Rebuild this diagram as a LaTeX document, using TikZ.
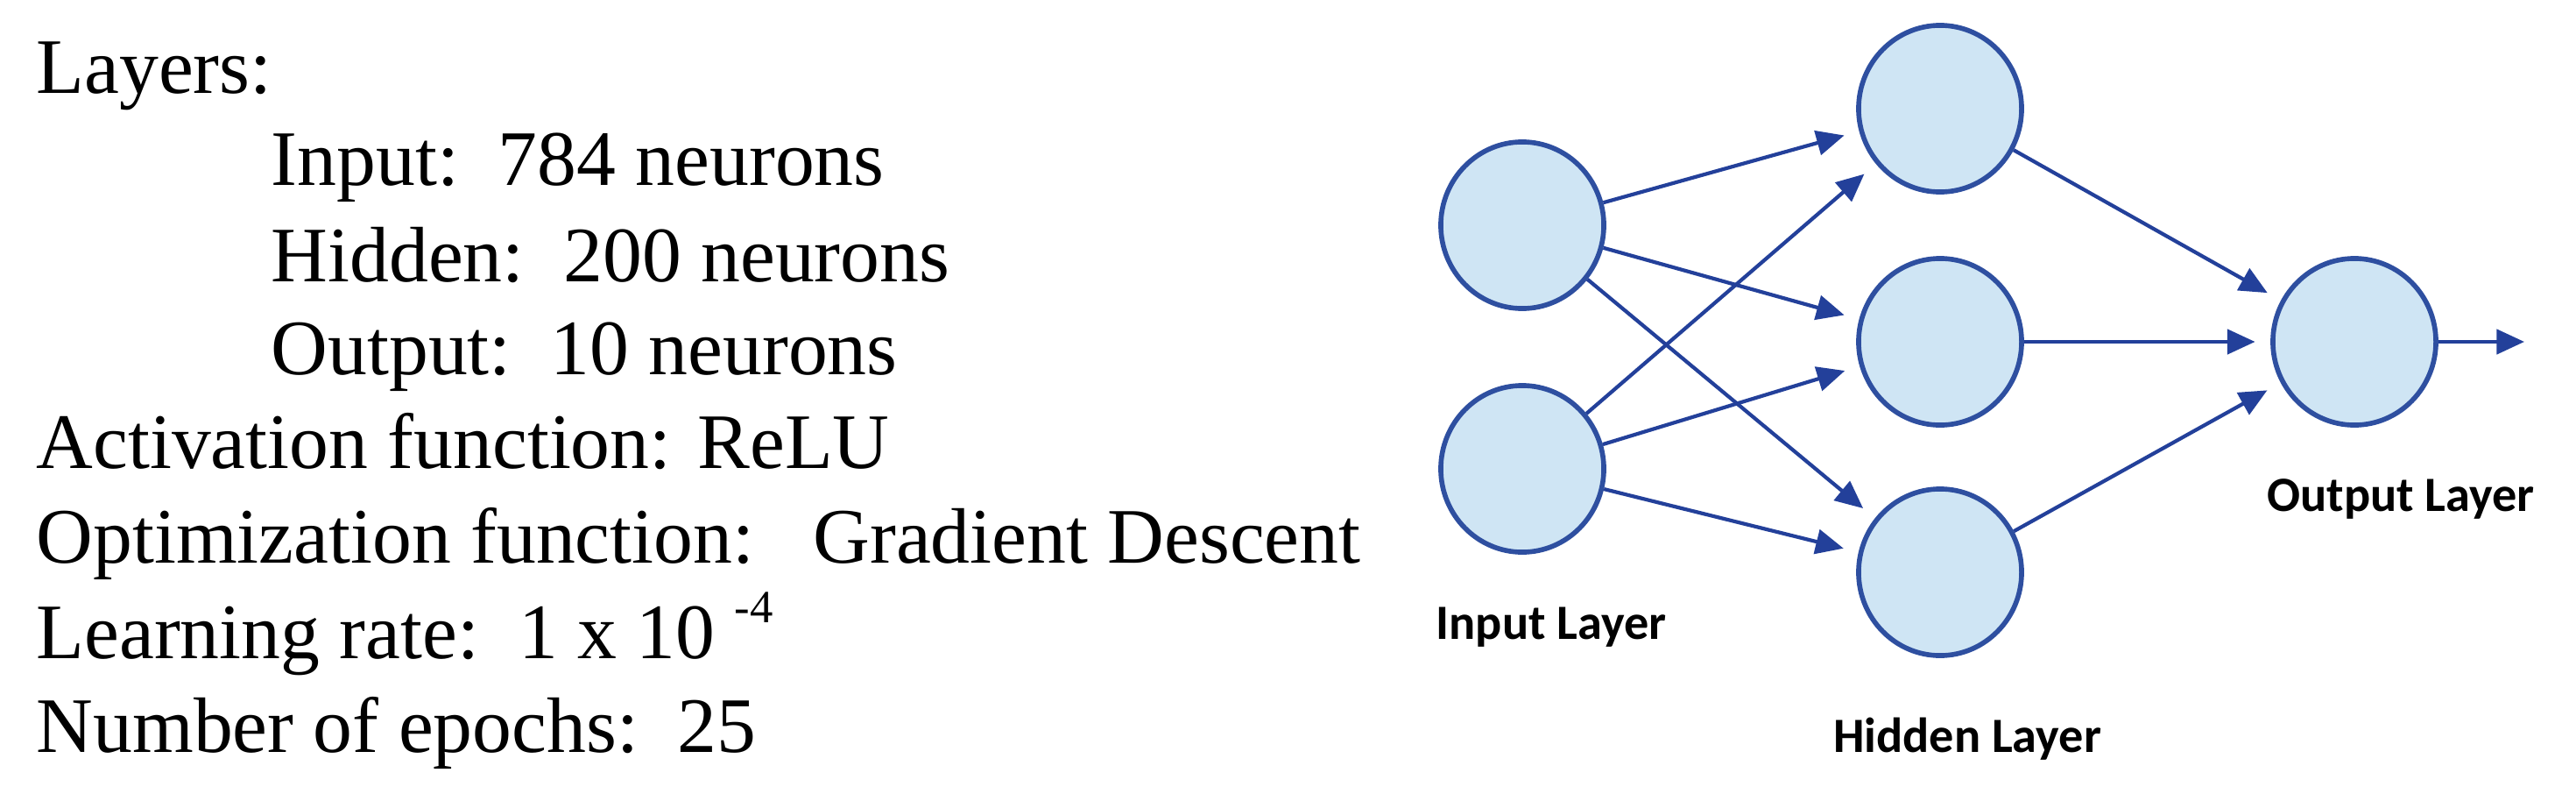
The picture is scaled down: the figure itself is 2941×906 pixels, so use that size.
\documentclass[tikz,border=0pt]{standalone}
\usepackage{fontspec}
\setmainfont{Liberation Serif}
\newfontfamily\lblfont{Carlito}
\usetikzlibrary{arrows.meta,shapes.geometric}
\definecolor{nfill}{HTML}{CFE5F4}
\definecolor{nline}{HTML}{2E4FA0}
\definecolor{aline}{HTML}{23409A}
\begin{document}
\begin{tikzpicture}[x=0.01cm,y=-0.01cm,
  txt/.style={anchor=base west,inner sep=0,font=\fontsize{25.5}{27}\selectfont},
  lbl/.style={anchor=base,inner sep=0,font=\lblfont\bfseries\fontsize{16}{18}\selectfont},
  neuron/.style={ellipse,draw=nline,fill=nfill,line width=1.6pt,minimum width=1.86cm,minimum height=1.9cm,inner sep=0},
  conn/.style={draw=aline,line width=1.2pt,-{Triangle[length=9pt,width=8pt]},shorten >=5pt}]
\useasboundingbox (0,0) rectangle (2941,906);
\node[txt] (t1) at (41,106) {Layers:};
\node[txt] (t2) at (309,211) {Input:\ \ 784 neurons};
\node[txt] (t3) at (309,321) {Hidden:\ \ 200 neurons};
\node[txt] (t4) at (309,427) {Output:\ \ 10 neurons};
\node[txt] (t5) at (41,534) {Activation function: ReLU};
\node[txt] (t6) at (41,642) {Optimization function:\ \ \ Gradient Descent};
\node[txt] (t7) at (41,751) {Learning rate:\ \ 1 x 10 \raisebox{0.45em}{\fontsize{15}{15}\selectfont -4}};
\node[txt] (t8) at (41,858) {Number of epochs:\ \ 25};

\node[neuron] (i1) at (1738,257) {};
\node[neuron] (i2) at (1738,535) {};
\node[neuron] (h1) at (2215,124) {};
\node[neuron] (h2) at (2215,390) {};
\node[neuron] (h3) at (2215,653) {};
\node[neuron] (o) at (2688,390) {};
\coordinate (out) at (2882,390);

\foreach \a in {i1,i2}{\foreach \b in {h1,h2,h3}{\draw[conn] (\a) -- (\b);}}
\foreach \b in {h1,h2,h3}{\draw[conn] (\b) -- (o);}
\draw[conn,shorten >=0pt] (o) -- (out);

\node[lbl] (li) at (1771,729) {Input Layer};
\node[lbl] (lo) at (2741,583) {Output Layer};
\node[lbl] (lh) at (2246,858) {Hidden Layer};
\end{tikzpicture}
\end{document}
